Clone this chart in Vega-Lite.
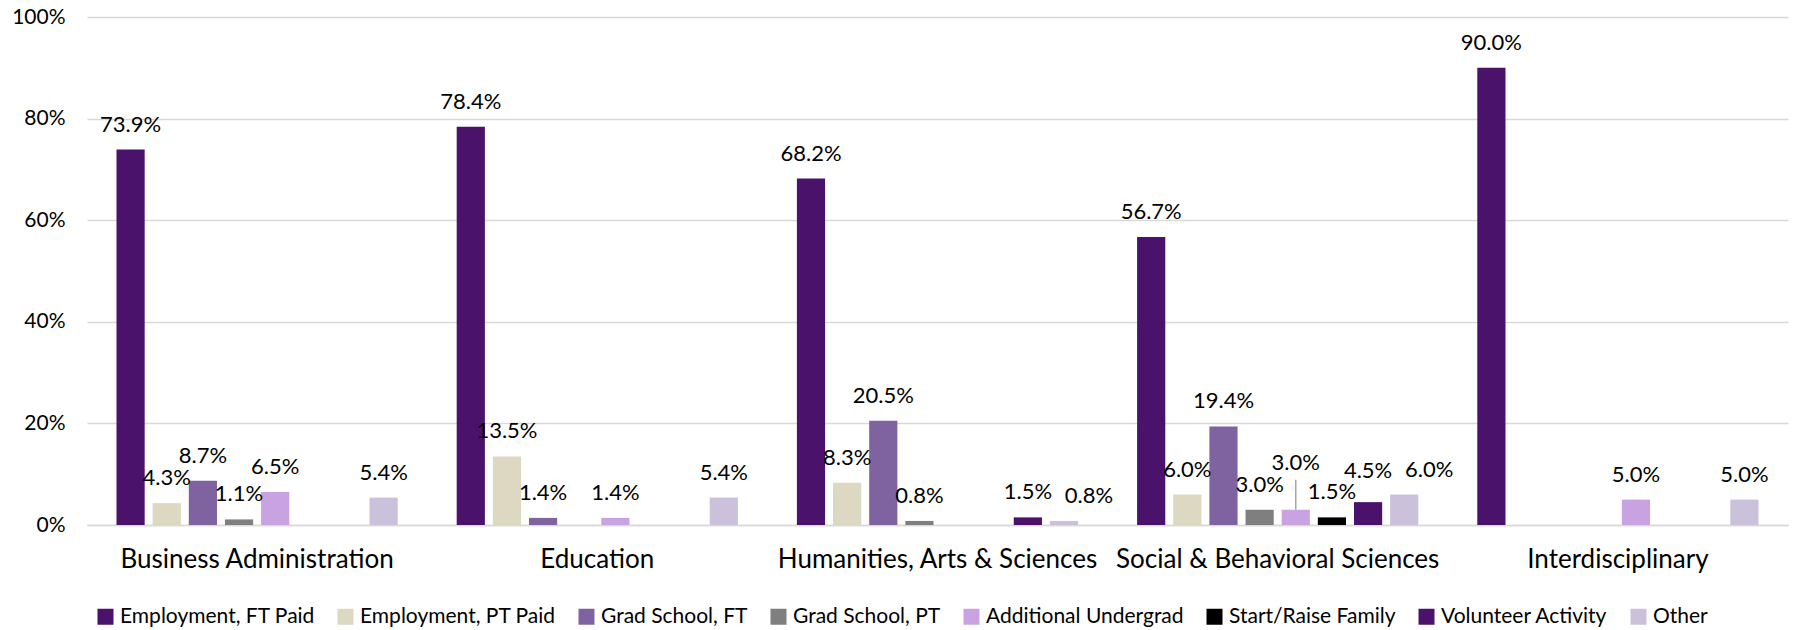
{
  "$schema": "https://vega.github.io/schema/vega-lite/v6.json",
  "width": 1701,
  "height": 508,
  "autosize": {"type": "none"},
  "padding": {"left": 87, "top": 17, "right": 8, "bottom": 105},
  "background": "white",
  "config": {
    "font": "Lato",
    "view": {"stroke": null},
    "axis": {"labelFont": "Lato", "labelColor": "#000000"},
    "legend": {"labelFont": "Lato"}
  },
  "data": {
    "values": [
      {"major": "Business Administration", "outcome": "Employment, FT Paid", "pct": 73.9},
      {"major": "Business Administration", "outcome": "Employment, PT Paid", "pct": 4.3},
      {"major": "Business Administration", "outcome": "Grad School, FT", "pct": 8.7},
      {"major": "Business Administration", "outcome": "Grad School, PT", "pct": 1.1},
      {"major": "Business Administration", "outcome": "Additional Undergrad", "pct": 6.5},
      {"major": "Business Administration", "outcome": "Start/Raise Family", "pct": 0},
      {"major": "Business Administration", "outcome": "Volunteer Activity", "pct": 0},
      {"major": "Business Administration", "outcome": "Other", "pct": 5.4},
      {"major": "Education", "outcome": "Employment, FT Paid", "pct": 78.4},
      {"major": "Education", "outcome": "Employment, PT Paid", "pct": 13.5},
      {"major": "Education", "outcome": "Grad School, FT", "pct": 1.4},
      {"major": "Education", "outcome": "Grad School, PT", "pct": 0},
      {"major": "Education", "outcome": "Additional Undergrad", "pct": 1.4},
      {"major": "Education", "outcome": "Start/Raise Family", "pct": 0},
      {"major": "Education", "outcome": "Volunteer Activity", "pct": 0},
      {"major": "Education", "outcome": "Other", "pct": 5.4},
      {"major": "Humanities, Arts & Sciences", "outcome": "Employment, FT Paid", "pct": 68.2},
      {"major": "Humanities, Arts & Sciences", "outcome": "Employment, PT Paid", "pct": 8.3},
      {"major": "Humanities, Arts & Sciences", "outcome": "Grad School, FT", "pct": 20.5},
      {"major": "Humanities, Arts & Sciences", "outcome": "Grad School, PT", "pct": 0.8},
      {"major": "Humanities, Arts & Sciences", "outcome": "Additional Undergrad", "pct": 0},
      {"major": "Humanities, Arts & Sciences", "outcome": "Start/Raise Family", "pct": 0},
      {"major": "Humanities, Arts & Sciences", "outcome": "Volunteer Activity", "pct": 1.5},
      {"major": "Humanities, Arts & Sciences", "outcome": "Other", "pct": 0.8},
      {"major": "Social & Behavioral Sciences", "outcome": "Employment, FT Paid", "pct": 56.7},
      {"major": "Social & Behavioral Sciences", "outcome": "Employment, PT Paid", "pct": 6.0},
      {"major": "Social & Behavioral Sciences", "outcome": "Grad School, FT", "pct": 19.4},
      {"major": "Social & Behavioral Sciences", "outcome": "Grad School, PT", "pct": 3.0},
      {"major": "Social & Behavioral Sciences", "outcome": "Additional Undergrad", "pct": 3.0},
      {"major": "Social & Behavioral Sciences", "outcome": "Start/Raise Family", "pct": 1.5},
      {"major": "Social & Behavioral Sciences", "outcome": "Volunteer Activity", "pct": 4.5},
      {"major": "Social & Behavioral Sciences", "outcome": "Other", "pct": 6.0},
      {"major": "Interdisciplinary", "outcome": "Employment, FT Paid", "pct": 90.0},
      {"major": "Interdisciplinary", "outcome": "Employment, PT Paid", "pct": 0},
      {"major": "Interdisciplinary", "outcome": "Grad School, FT", "pct": 0},
      {"major": "Interdisciplinary", "outcome": "Grad School, PT", "pct": 0},
      {"major": "Interdisciplinary", "outcome": "Additional Undergrad", "pct": 5.0},
      {"major": "Interdisciplinary", "outcome": "Start/Raise Family", "pct": 0},
      {"major": "Interdisciplinary", "outcome": "Volunteer Activity", "pct": 0},
      {"major": "Interdisciplinary", "outcome": "Other", "pct": 5.0}
    ]
  },
  "transform": [
    {"calculate": "format(datum.pct, '.1f') + '%'", "as": "label"},
    {"calculate": "datum.major === 'Social & Behavioral Sciences' && datum.outcome === 'Additional Undergrad'", "as": "raised"},
    {"calculate": "datum.major === 'Social & Behavioral Sciences' && datum.outcome === 'Volunteer Activity'", "as": "nudged"},
    {"calculate": "datum.outcome === 'Other' && (datum.major === 'Social & Behavioral Sciences' || datum.major === 'Humanities, Arts & Sciences')", "as": "shifted"},
    {"calculate": "datum.pct + 5.9", "as": "leaderTop"}
  ],
  "encoding": {
    "x": {
      "field": "major",
      "type": "nominal",
      "sort": ["Business Administration", "Education", "Humanities, Arts & Sciences", "Social & Behavioral Sciences", "Interdisciplinary"],
      "scale": {"paddingInner": 0.15, "paddingOuter": 0.075},
      "axis": {
        "title": null,
        "labelAngle": 0,
        "labelFontSize": 26,
        "labelPadding": 21,
        "labelLimit": 0,
        "ticks": false,
        "domainColor": "#D9D9D9",
        "domainWidth": 1.5,
        "grid": false
      }
    },
    "xOffset": {
      "field": "outcome",
      "type": "nominal",
      "sort": ["Employment, FT Paid", "Employment, PT Paid", "Grad School, FT", "Grad School, PT", "Additional Undergrad", "Start/Raise Family", "Volunteer Activity", "Other"],
      "scale": {"paddingInner": 0.22, "paddingOuter": 0.11}
    },
    "y": {
      "field": "pct",
      "type": "quantitative",
      "scale": {"domain": [0, 100], "nice": false},
      "axis": {
        "title": null,
        "values": [0, 20, 40, 60, 80, 100],
        "labelExpr": "datum.value + '%'",
        "labelFontSize": 21,
        "labelPadding": 22,
        "ticks": false,
        "domain": false,
        "gridColor": "#D9D9D9",
        "gridWidth": 1.5
      }
    }
  },
  "layer": [
    {
      "transform": [{"filter": "datum.pct > 0"}],
      "mark": {"type": "bar"},
      "encoding": {
        "color": {
          "field": "outcome",
          "type": "nominal",
          "sort": ["Employment, FT Paid", "Employment, PT Paid", "Grad School, FT", "Grad School, PT", "Additional Undergrad", "Start/Raise Family", "Volunteer Activity", "Other"],
          "scale": {
            "domain": ["Employment, FT Paid", "Employment, PT Paid", "Grad School, FT", "Grad School, PT", "Additional Undergrad", "Start/Raise Family", "Volunteer Activity", "Other"],
            "range": ["#4B126B", "#DDD8C2", "#7F63A1", "#7F7F7F", "#C9A3E1", "#000000", "#4B126B", "#CBC1DB"]
          },
          "legend": {
            "title": null,
            "orient": "none",
            "direction": "horizontal",
            "legendX": 8,
            "legendY": 589,
            "symbolType": "square",
            "symbolSize": 256,
            "symbolStrokeWidth": 0,
            "labelFontSize": 21,
            "labelLimit": 0,
            "labelOffset": 4,
            "columnPadding": 20
          }
        }
      }
    },
    {
      "transform": [{"filter": "datum.raised"}],
      "mark": {"type": "rule", "color": "#A6A6A6", "strokeWidth": 1.5},
      "encoding": {
        "y2": {"field": "leaderTop"}
      }
    },
    {
      "transform": [{"filter": "datum.pct > 0 && !datum.raised && !datum.shifted && !datum.nudged"}],
      "mark": {"type": "text", "fontSize": 22, "baseline": "alphabetic", "dy": -18, "color": "#000000"},
      "encoding": {"text": {"field": "label", "type": "nominal"}}
    },
    {
      "transform": [{"filter": "datum.raised"}],
      "mark": {"type": "text", "fontSize": 22, "baseline": "alphabetic", "dy": -40, "color": "#000000"},
      "encoding": {"text": {"field": "label", "type": "nominal"}}
    },
    {
      "transform": [{"filter": "datum.nudged"}],
      "mark": {"type": "text", "fontSize": 22, "baseline": "alphabetic", "dy": -24, "color": "#000000"},
      "encoding": {"text": {"field": "label", "type": "nominal"}}
    },
    {
      "transform": [{"filter": "datum.shifted"}],
      "mark": {"type": "text", "fontSize": 22, "baseline": "alphabetic", "dy": -18, "dx": 25, "color": "#000000"},
      "encoding": {"text": {"field": "label", "type": "nominal"}}
    }
  ]
}
